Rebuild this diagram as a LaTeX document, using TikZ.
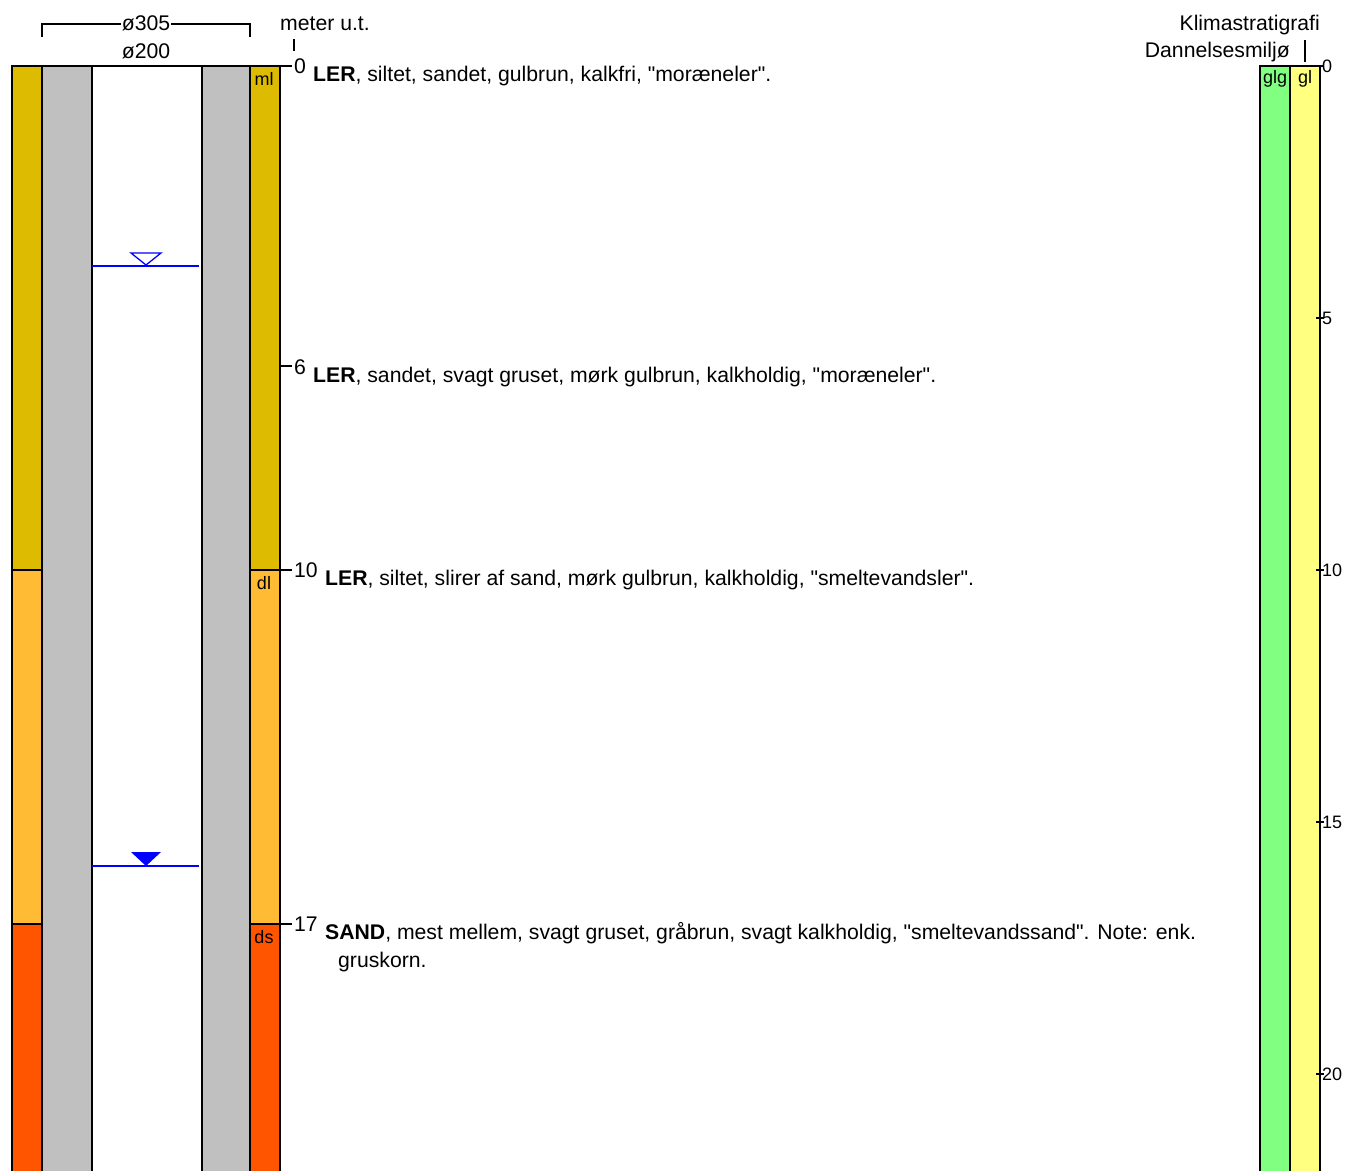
\documentclass[tikz,border=0pt]{standalone}
\usepackage{fontspec}
\setmainfont{Liberation Sans}[Ligatures=TeXOff]
\definecolor{mlc}{RGB}{221,187,0}
\definecolor{dlc}{RGB}{255,187,51}
\definecolor{dsc}{RGB}{255,85,0}
\definecolor{grc}{RGB}{192,192,192}
\definecolor{gnc}{RGB}{128,255,128}
\definecolor{ylc}{RGB}{255,255,128}
\definecolor{wlc}{RGB}{0,0,255}
\begin{document}
\begin{tikzpicture}[x=1pt,y=-1pt,
  bord/.style={line width=1.3pt,black},
  txt/.style={inner sep=0pt,font=\fontsize{21.2}{25}\selectfont},
  small/.style={inner sep=0pt,font=\fontsize{18}{21}\selectfont},
  desc/.style={txt,anchor=base west},
  depthlbl/.style={txt,anchor=base west},
  wl/.style={wlc,line width=1.3pt}]
\useasboundingbox (0,0) rectangle (1346,1171);
% left column fills
\fill[mlc] (12,66) rectangle (42,570);
\fill[dlc] (12,570) rectangle (42,924);
\fill[dsc] (12,924) rectangle (42,1171);
\fill[mlc] (250,66) rectangle (280,570);
\fill[dlc] (250,570) rectangle (280,924);
\fill[dsc] (250,924) rectangle (280,1171);
\fill[grc] (42,66) rectangle (92,1171);
\fill[grc] (202,66) rectangle (250,1171);
% borders
\draw[bord] (12,1171) -- (12,66) -- (292,66);
\foreach \x in {42,92,202,250,280} \draw[bord] (\x,66) -- (\x,1171);
\draw[bord] (12,570) -- (42,570);
\draw[bord] (250,570) -- (292,570);
\draw[bord] (12,924) -- (42,924);
\draw[bord] (250,924) -- (292,924);
\draw[bord] (280,366) -- (292,366);
% layer codes
\node[small] (ml) at (264,79) {ml};
\node[small] (dl) at (264,583) {dl};
\node[small] (ds) at (264,937) {ds};
% header
\draw[bord] (42,37) -- (42,24) -- (250,24) -- (250,37);
\node[txt,fill=white,inner xsep=1pt,inner ysep=2pt] (d305) at (146,23) {ø305};
\node[txt] (d200) at (146,51) {ø200};
\node[txt,anchor=base west] (meter) at (280,30) {meter u.t.};
\draw[bord] (294,39) -- (294,51);
% water levels
\draw[wl] (92,266) -- (199,266);
\draw[wl] (131,253) -- (161,253) -- (146,265) -- cycle;
\draw[wl] (92,866) -- (199,866);
\fill[wlc] (131,852) -- (161,852) -- (146,866) -- cycle;
% depth labels
\node[depthlbl] (z0) at (294,73) {0};
\node[depthlbl] (z6) at (294,374) {6};
\node[depthlbl] (z10) at (294,577) {10};
\node[depthlbl] (z17) at (294,931) {17};
% descriptions
\node[desc] (t0) at (313,81) {\textbf{LER}, siltet, sandet, gulbrun, kalkfri, "moræneler".};
\node[desc] (t6) at (313,382) {\textbf{LER}, sandet, svagt gruset, mørk gulbrun, kalkholdig, "moræneler".};
\node[desc] (t10) at (325,585) {\textbf{LER}, siltet, slirer af sand, mørk gulbrun, kalkholdig, "smeltevandsler".};
\node[desc] (t17) at (325,939) {\textbf{SAND}, mest mellem, svagt gruset, gråbrun, svagt kalkholdig, "smeltevandssand". Note: enk.};
\node[desc] (t17b) at (338,967) {gruskorn.};
% right columns
\fill[gnc] (1260,66) rectangle (1290,1171);
\fill[ylc] (1290,66) rectangle (1320,1171);
\draw[bord] (1260,1171) -- (1260,66) -- (1320,66) -- (1320,1171);
\draw[bord] (1290,66) -- (1290,1171);
\node[small] (glg) at (1275,79) {glg};
\node[small] (gl) at (1305,79) {gl};
\foreach \d/\y in {0/66,5/318,10/570,15/822,20/1074}{
  \draw[bord] (1316,\y) -- (1324,\y);
  \node[small,anchor=west] (r\d) at (1322,\y) {\d};
}
\node[txt,anchor=base east] (klima) at (1320,30) {Klimastratigrafi};
\node[txt,anchor=base east] (dann) at (1290,57) {Dannelsesmiljø};
\draw[bord] (1305,40) -- (1305,62);
\end{tikzpicture}
\end{document}
